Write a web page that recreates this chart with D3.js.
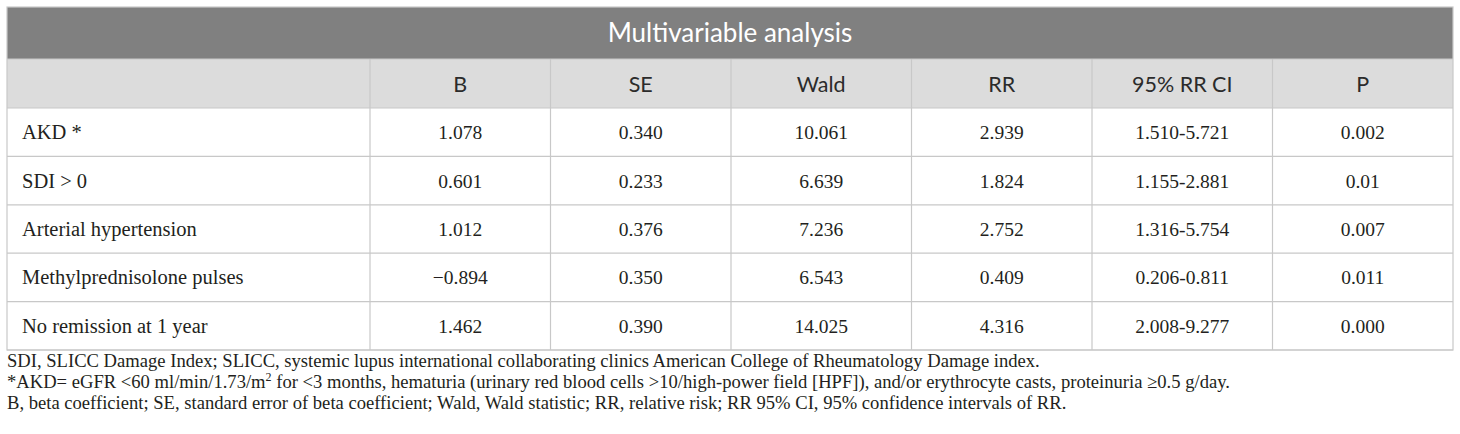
<!DOCTYPE html>
<html>
<head>
<meta charset="utf-8">
<script src="https://cdn.jsdelivr.net/npm/d3@7"></script>
<style>
  body { margin: 0; background: #fff; }
  svg { display: block; }
</style>
</head>
<body>
<div class="table-wrapper"></div>
<script>
// table content
const title = "Multivariable analysis"
const columns = ["B", "SE", "Wald", "RR", "95% RR CI", "P"]
const variables = ["AKD *", "SDI > 0", "Arterial hypertension", "Methylprednisolone pulses", "No remission at 1 year"]
const bValues = ["1.078", "0.601", "1.012", "\u22120.894", "1.462"]
const seValues = ["0.340", "0.233", "0.376", "0.350", "0.390"]
const waldValues = ["10.061", "6.639", "7.236", "6.543", "14.025"]
const rrValues = ["2.939", "1.824", "2.752", "0.409", "4.316"]
const ciValues = ["1.510-5.721", "1.155-2.881", "1.316-5.754", "0.206-0.811", "2.008-9.277"]
const pValues = ["0.002", "0.01", "0.007", "0.011", "0.000"]
const footnotes = [
  "SDI, SLICC Damage Index; SLICC, systemic lupus international collaborating clinics American College of Rheumatology Damage index.",
  "*AKD= eGFR <60 ml/min/1.73/m^2 for <3 months, hematuria (urinary red blood cells >10/high-power field [HPF]), and/or erythrocyte casts, proteinuria \u22650.5 g/day.",
  "B, beta coefficient; SE, standard error of beta coefficient; Wald, Wald statistic; RR, relative risk; RR 95% CI, 95% confidence intervals of RR."
]

const rows = variables.map((v, i) => ({
  name: v,
  cells: [bValues[i], seValues[i], waldValues[i], rrValues[i], ciValues[i], pValues[i]]
}))

const width = 1460
const height = 434
const left = 7, right = 1453, firstColEnd = 370
const titleTop = 7, headerTop = 59, bodyTop = 108, bodyBottom = 350
const lineColor = "#c8c8c8"
const sansFont = "Lato, 'Open Sans', sans-serif"
const serifFont = "'Liberation Serif', 'DejaVu Serif', serif"

let svg = d3.select(".table-wrapper")
  .append("svg")
  .attr("width", width)
  .attr("height", height)

let x = d3.scaleBand().domain(columns).range([firstColEnd, right])
let y = d3.scaleBand().domain(variables).range([bodyTop, bodyBottom])

// backgrounds
svg.append("rect")
  .attr("x", left).attr("y", titleTop)
  .attr("width", right - left).attr("height", headerTop - titleTop)
  .attr("fill", "#808080")

svg.append("rect")
  .attr("x", left).attr("y", headerTop)
  .attr("width", right - left).attr("height", bodyTop - headerTop)
  .attr("fill", "#dcdcdc")

// title
svg.append("text")
  .attr("x", (left + right) / 2)
  .attr("y", (titleTop + headerTop) / 2 + 8.5)
  .attr("text-anchor", "middle")
  .attr("font-family", sansFont)
  .attr("font-size", 26)
  .attr("fill", "#fff")
  .text(title)

// header labels
svg.append("g")
  .selectAll("text")
  .data(columns)
  .join("text")
  .attr("x", d => x(d) + x.bandwidth() / 2)
  .attr("y", (headerTop + bodyTop) / 2 + 8)
  .attr("text-anchor", "middle")
  .attr("font-family", sansFont)
  .attr("font-size", 21.5)
  .attr("fill", "#2b2b2b")
  .text(d => d)

// grid lines
let grid = svg.append("g")
  .attr("stroke", lineColor)
  .attr("stroke-width", 1.2)
  .attr("fill", "none")

grid.selectAll("line.h")
  .data([headerTop, bodyTop].concat(variables.map(v => y(v) + y.bandwidth())))
  .join("line")
  .attr("class", "h")
  .attr("x1", left).attr("x2", right)
  .attr("y1", d => d).attr("y2", d => d)

grid.selectAll("line.v")
  .data(columns)
  .join("line")
  .attr("class", "v")
  .attr("x1", d => x(d)).attr("x2", d => x(d))
  .attr("y1", headerTop).attr("y2", bodyBottom)

grid.append("rect")
  .attr("x", left).attr("y", titleTop)
  .attr("width", right - left).attr("height", bodyBottom - titleTop)

// body rows
let rowG = svg.append("g")
  .selectAll("g")
  .data(rows)
  .join("g")
  .attr("transform", d => "translate(0," + (y(d.name) + y.bandwidth() / 2 + 7) + ")")
  .attr("font-family", serifFont)
  .attr("fill", "#231f20")

rowG.append("text")
  .attr("x", 22)
  .attr("font-size", 20.5)
  .text(d => d.name)

rowG.selectAll("text.cell")
  .data(d => d.cells)
  .join("text")
  .attr("class", "cell")
  .attr("x", (d, i) => x(columns[i]) + x.bandwidth() / 2)
  .attr("text-anchor", "middle")
  .attr("font-size", 19.5)
  .text(d => d)

// footnotes
let notes = svg.append("g")
  .attr("font-family", serifFont)
  .attr("font-size", 18.6)
  .attr("fill", "#231f20")

footnotes.forEach((note, i) => {
  let t = notes.append("text")
    .attr("x", left)
    .attr("y", 367 + i * 21)
  note.split("^2").forEach((part, j) => {
    if (j > 0) {
      t.append("tspan").attr("dy", -7).attr("font-size", 12).text("2")
      t.append("tspan").attr("dy", 7).text(part)
    } else {
      t.append("tspan").text(part)
    }
  })
})
</script>
</body>
</html>
